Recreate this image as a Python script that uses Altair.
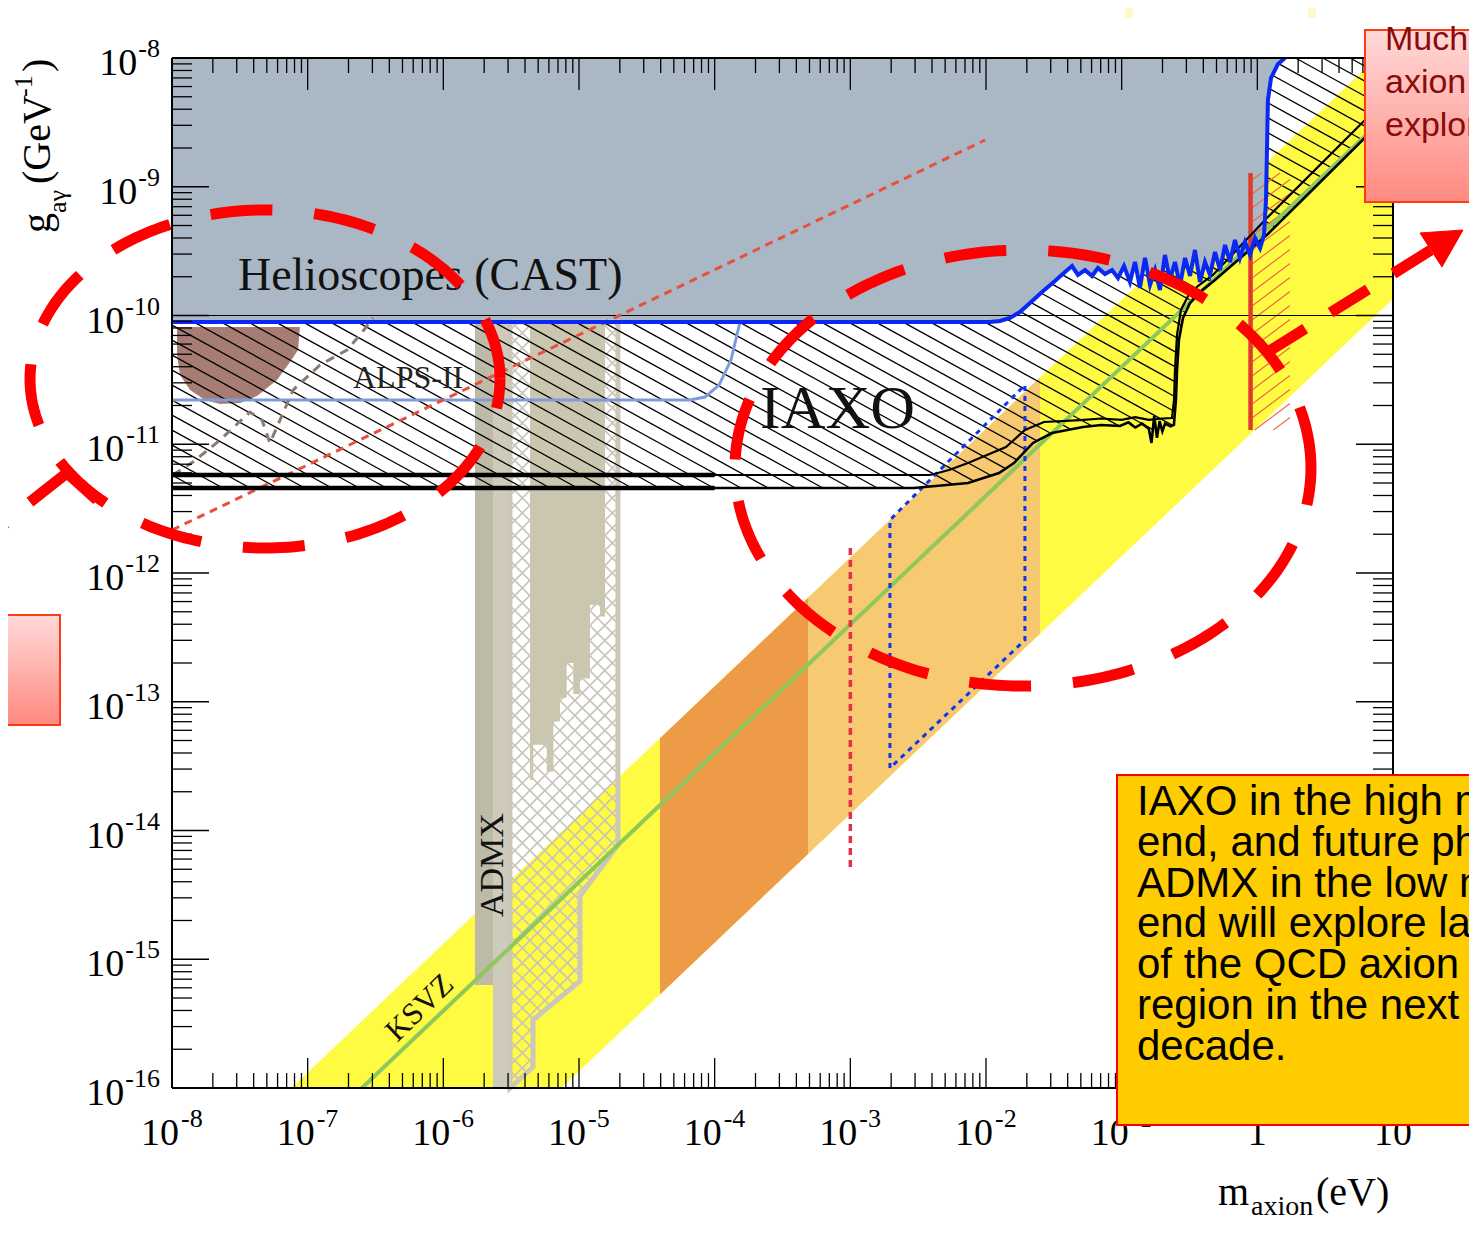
import altair as alt
import numpy as np
import pandas as pd

# ---------------- chart geometry ----------------
W, H = 1221, 1030
XMIN, XMAX, YMIN, YMAX = -8.0, 1.0, -16.0, -8.0
SX = W / (XMAX - XMIN)   # px per decade (x)
SY = H / (YMAX - YMIN)   # px per decade (y)

xs = alt.Scale(domain=[XMIN, XMAX], nice=False, zero=False)
ys = alt.Scale(domain=[YMIN, YMAX], nice=False, zero=False)


def X(f):
    return alt.X(f, type="quantitative", scale=xs, axis=None)


def Y(f):
    return alt.Y(f, type="quantitative", scale=ys, axis=None)


# ---------------- data: log10(m_axion / eV), log10(g / GeV^-1) ----------------
x_decades = list(range(-8, 2))
y_decades = list(range(-16, -7))

# QCD axion (KSVZ/DFSZ) yellow band, edges
band_m = [-8.0, 1.0]
band_lo = [-18.87, -9.87]
band_hi = [-16.88, -7.88]
# KSVZ line
ksvz_m = [-6.6, 1.0]
ksvz_g = [-16.0, -8.4]
# orange regions (dark / light)
orD_m = [-4.403, -3.312]
orD_lo = [-15.273, -14.182]
orD_hi = [-13.283, -12.192]
orL_m = [-3.312, -1.602]
orL_lo = [-14.182, -12.472]
orL_hi = [-12.192, -10.482]

# CAST helioscope limit
cast_m = [-8.0, -1.971, -1.897, -1.823, -1.750, -1.676, -1.587, -1.492, -1.418,
          -1.366, -1.322, -1.270, -1.219, -1.175, -1.123, -1.071, -1.027, -0.983, -0.939,
          -0.902, -0.865, -0.828, -0.791, -0.754, -0.718, -0.681, -0.644, -0.607, -0.570,
          -0.533, -0.496, -0.460, -0.423, -0.386, -0.349, -0.312, -0.275, -0.238, -0.202,
          -0.165, -0.128, -0.091, -0.054, -0.017, 0.020, 0.049,
          0.064, 0.071, 0.078, 0.101, 0.152, 0.204]
cast_g = [-10.05, -10.05, -10.043, -10.019, -9.973, -9.903, -9.817, -9.732, -9.662,
          -9.616, -9.685, -9.647, -9.693, -9.631, -9.678, -9.647, -9.709, -9.616, -9.740,
          -9.584, -9.786, -9.553, -9.763, -9.647, -9.802, -9.530, -9.724, -9.584, -9.771,
          -9.553, -9.693, -9.491, -9.740, -9.584, -9.685, -9.507, -9.647, -9.452, -9.584,
          -9.414, -9.553, -9.429, -9.530, -9.398, -9.476, -9.375,
          -9.103, -8.715, -8.326, -8.155, -8.047, -8.0]

# IAXO sensitivity curves (lower and upper)
iaxo2_m = [-8.0, -2.531, -2.133, -1.904, -1.794, -1.654, -1.514, -1.285, -1.15, -1.012,
           -0.95, -0.90, -0.85, -0.80, -0.78, -0.76, -0.74, -0.72, -0.70, -0.68,
           -0.64, -0.615, -0.600, -0.592, -0.578, -0.548, -0.496, -0.423, -0.312, 0.078, 1.0]
iaxo2_g = [-11.340, -11.340, -11.301, -11.223, -11.146, -10.990, -10.913, -10.866, -10.851, -10.858,
           -10.83, -10.87, -10.84, -10.88, -10.99, -10.78, -10.95, -10.82, -10.90, -10.84,
           -10.86, -10.85, -10.656, -10.423, -10.190, -10.019, -9.903, -9.817, -9.724, -9.367, -8.404]
iaxo1_m = [-8.0, -2.413, -2.273, -2.133, -1.853, -1.713, -1.573, -1.307, -1.15, -1.0, -0.9,
           -0.8, -0.7, -0.629, -0.614, -0.607, -0.592, -0.563, -0.511, -0.438, -0.327, 0.078, 1.0]
iaxo1_g = [-11.239, -11.239, -11.200, -11.146, -11.021, -10.889, -10.827, -10.812, -10.80, -10.81, -10.79,
           -10.81, -10.80, -10.796, -10.656, -10.423, -10.151, -9.957, -9.849, -9.771, -9.685, -9.235, -8.264]

# ALPS-II
alps_m = [-8.0, -4.182, -4.071, -3.968, -3.880, -3.836, -3.813]
alps_g = [-10.656, -10.656, -10.633, -10.540, -10.346, -10.151, -10.05]
brown_m = [-7.963, -7.941, -7.867, -7.757, -7.646, -7.499, -7.373, -7.226, -7.130, -7.071, -7.057]
brown_lo = [-10.307, -10.462, -10.579, -10.656, -10.687, -10.680, -10.625, -10.501, -10.361, -10.268, -10.089]
brown_hi = [-10.089] * 11
gdash_m = [-7.993, -7.845, -7.646, -7.425, -7.337, -7.278, -7.204, -7.108, -6.909, -6.710, -6.614, -6.518]
gdash_g = [-11.239, -11.138, -10.967, -10.750, -10.812, -10.990, -10.812, -10.579, -10.384, -10.268, -10.151, -10.019]

# red dotted diagonal
rdot_m = [-8.0, -2.007]
rdot_g = [-11.666, -8.637]

# ADMX
admx_band = dict(x1=[-5.767, -5.634], x2=[-5.634, -5.509], y1=[-10.05, -10.05], y2=[-15.20, -16.0])
admx_future_m = [-5.509, -4.713, -4.713, -4.993, -4.993, -5.339, -5.339, -5.509, -5.509]
admx_future_g = [-10.05, -10.05, -14.113, -14.509, -15.169, -15.472, -15.837, -16.0, -10.05]
admx_step_m = [-5.361, -5.337, -5.238, -5.189, -5.140, -5.091, -5.042, -4.993, -4.919, -4.845, -4.808]
admx_step_g = [-13.605, -13.334, -13.544, -13.153, -12.971, -12.699, -12.940, -12.820, -12.248, -12.338]

# blue dotted parallelogram, red dotted vertical, red solid + hatched
bpar_m = [-2.708, -2.708, -1.713, -1.713, -2.708]
bpar_g = [-13.515, -11.588, -10.540, -12.520, -13.515]
rvert_m = [-3.0, -3.0]
rvert_g = [-11.806, -14.307]
rsol_m = [-0.05, -0.05]
rsol_g = [-8.893, -10.889]
rhatch_box = [(-0.039, -8.893), (0.241, -8.893), (0.241, -10.889), (-0.039, -10.889)]

# ---------------- helpers ----------------
def hatch(poly, slope, step, offset=0.0):
    P = np.array([[a * SX, -b * SY] for a, b in poly])
    n = len(P)
    k = P[:, 1] - slope * P[:, 0]
    c = np.floor((k.min() - offset) / step) * step + offset
    segs = []
    while c <= k.max():
        us = []
        for i in range(n):
            a = P[i]
            b = P[(i + 1) % n]
            fa = a[1] - slope * a[0] - c
            fb = b[1] - slope * b[0] - c
            if (fa < 0) != (fb < 0):
                t = fa / (fa - fb)
                us.append(a[0] + t * (b[0] - a[0]))
        us.sort()
        for j in range(0, len(us) - 1, 2):
            u1, u2 = us[j], us[j + 1]
            segs.append({"x1": u1 / SX, "y1": -(slope * u1 + c) / SY,
                         "x2": u2 / SX, "y2": -(slope * u2 + c) / SY})
        c += step
    return pd.DataFrame(segs)


def line_df(m, g):
    return pd.DataFrame({"x": m, "y": g, "i": range(len(m))})


def line(m, g, **kw):
    return alt.Chart(line_df(m, g)).mark_line(**kw).encode(
        x=X("x"), y=Y("y"), order=alt.Order("i:Q"))


def segs_layer(df, **kw):
    return alt.Chart(df).mark_rule(**kw).encode(
        x=X("x1"), x2=alt.X2("x2"), y=Y("y1"), y2=alt.Y2("y2"))


def rects(x1, x2, y1, y2, **kw):
    df = pd.DataFrame({"x1": x1, "x2": x2, "y1": y1, "y2": y2})
    return alt.Chart(df).mark_rect(**kw).encode(
        x=X("x1"), x2=alt.X2("x2"), y=Y("y1"), y2=alt.Y2("y2"))


def area(m, lo, hi, **kw):
    df = pd.DataFrame({"x": m, "lo": lo, "hi": hi})
    return alt.Chart(df).mark_area(**kw).encode(x=X("x"), y=Y("lo"), y2=alt.Y2("hi"))


def text(rows, **kw):
    df = pd.DataFrame(rows, columns=["x", "y", "t"])
    return alt.Chart(df).mark_text(**kw).encode(x=X("x"), y=Y("y"), text="t:N")


def ellipse(cx, cy, rx, ry, n=240):
    t = np.linspace(0, 2 * np.pi, n)
    return cx + rx * np.cos(t), cy + ry * np.sin(t)


SERIF = "Liberation Serif"
SANS = "Liberation Sans"
layers = []

# ---------------- filled regions ----------------
layers.append(area(band_m, band_lo, band_hi, color="#FFFA42", clip=True))
layers.append(area(orD_m, orD_lo, orD_hi, color="#EE9B48", clip=True))
layers.append(area(orL_m, orL_lo, orL_hi, color="#F7C970", clip=True))
layers.append(area(cast_m, cast_g, [YMAX] * len(cast_m), color="#AAB7C4", clip=True))
layers.append(area(brown_m, brown_lo, brown_hi, color="#A77D73"))
layers.append(rects(admx_band["x1"][:1], admx_band["x2"][:1], admx_band["y1"][:1], admx_band["y2"][:1],
                    color="#BEBAA8"))
layers.append(rects(admx_band["x1"][1:], admx_band["x2"][1:], admx_band["y1"][1:], admx_band["y2"][1:],
                    color="#CFCBBB"))

# crosshatch of future ADMX region
fut_poly = list(zip(admx_future_m[:-1], admx_future_g[:-1]))
layers.append(segs_layer(pd.concat([hatch(fut_poly, 1.0, 15.0), hatch(fut_poly, -1.0, 15.0)]),
                         color="#C9C5B8", strokeWidth=1.6))
# current ADMX exclusion (stepped)
layers.append(area(admx_step_m, admx_step_g + [admx_step_g[-1]], [-10.05] * len(admx_step_m),
                   color="#CBC6B0", interpolate="step-after"))
layers.append(line(admx_future_m, admx_future_g, color="#CCC7B7", strokeWidth=5))

# IAXO hatch
iaxo_poly = list(zip(iaxo2_m, iaxo2_g)) + [(1.0, -8.0)] + \
    list(zip(cast_m[::-1], cast_g[::-1]))
layers.append(segs_layer(hatch(iaxo_poly, 0.55, 15.0, 4.0), color="black", strokeWidth=1.3))
# red hatch
layers.append(segs_layer(hatch(rhatch_box, -0.75, 14.0), color="#EC6A45", strokeWidth=1.1))

# ---------------- lines ----------------
hline = pd.DataFrame({"y": [-10.0]})
layers.append(alt.Chart(hline).mark_rule(color="black", strokeWidth=1.2).encode(
    y=Y("y"), x=alt.value(0), x2=alt.value(W)))
layers.append(line(alps_m, alps_g, color="#7E9DD8", strokeWidth=3))
layers.append(line(gdash_m, gdash_g, color="#8C7A6E", strokeWidth=3, strokeDash=[9, 7]))
layers.append(line(rdot_m, rdot_g, color="#E8503C", strokeWidth=3, strokeDash=[8, 6]))
layers.append(line(ksvz_m, ksvz_g, color="#8DC85C", strokeWidth=4, clip=True))
layers.append(line(bpar_m, bpar_g, color="#1034F0", strokeWidth=3, strokeDash=[5, 5]))
layers.append(line(rvert_m, rvert_g, color="#E0334A", strokeWidth=3.5, strokeDash=[7, 5]))
layers.append(line(rsol_m, rsol_g, color="#E03A2C", strokeWidth=4.5))
layers.append(line(iaxo1_m, iaxo1_g, color="black", strokeWidth=2.2, clip=True))
layers.append(line(iaxo2_m, iaxo2_g, color="black", strokeWidth=2.6, clip=True))
layers.append(line([-8.0, -4.0], [iaxo1_g[0], iaxo1_g[0]], color="black", strokeWidth=4.5))
layers.append(line([-8.0, -4.0], [iaxo2_g[0], iaxo2_g[0]], color="black", strokeWidth=4.5))
layers.append(line(cast_m, cast_g, color="#0A28F5", strokeWidth=4, clip=True))

# ---------------- plot labels ----------------
layers.append(text([(-7.514, -9.802, "Helioscopes (CAST)")], font=SERIF, fontSize=46,
                   align="left", baseline="alphabetic", color="#111111"))
layers.append(text([(-3.666, -10.874, "IAXO")], font=SERIF, fontSize=62,
                   align="left", baseline="alphabetic", color="#111111"))
layers.append(text([(-6.666, -10.563, "ALPS-II")], font=SERIF, fontSize=32,
                   align="left", baseline="alphabetic", color="#222222"))
layers.append(text([(-5.560, -14.672, "ADMX")], font=SERIF, fontSize=34, angle=270,
                   align="left", baseline="alphabetic", color="#111111"))
layers.append(text([(-6.172, -15.379, "KSVZ")], font=SERIF, fontSize=31, angle=316,
                   align="center", baseline="middle", color="#111111"))

# ---------------- frame and ticks ----------------
one = pd.DataFrame({"a": [0]})
for kw in [dict(x=alt.value(0), x2=alt.value(W), y=alt.value(0)),
           dict(x=alt.value(0), x2=alt.value(W), y=alt.value(H)),
           dict(y=alt.value(0), y2=alt.value(H), x=alt.value(0)),
           dict(y=alt.value(0), y2=alt.value(H), x=alt.value(W))]:
    layers.append(alt.Chart(one).mark_rule(color="black", strokeWidth=2).encode(**kw))

y_major = pd.DataFrame({"v": y_decades})
y_minor = pd.DataFrame({"v": [d + np.log10(k) for d in y_decades[:-1] for k in range(2, 10)]})
x_major = pd.DataFrame({"v": x_decades})
x_minor = pd.DataFrame({"v": [d + np.log10(k) for d in x_decades[:-1] for k in range(2, 10)]})
tk = dict(color="black", strokeWidth=1.3)
for df, L in [(y_major, 37), (y_minor, 20)]:
    layers.append(alt.Chart(df).mark_rule(**tk).encode(y=Y("v"), x=alt.value(0), x2=alt.value(L)))
    layers.append(alt.Chart(df).mark_rule(**tk).encode(y=Y("v"), x=alt.value(W - L), x2=alt.value(W)))
for df, Lt, Lb in [(x_major, 32, 30), (x_minor, 15, 15)]:
    layers.append(alt.Chart(df).mark_rule(**tk).encode(x=X("v"), y=alt.value(0), y2=alt.value(Lt)))
    layers.append(alt.Chart(df).mark_rule(**tk).encode(x=X("v"), y=alt.value(H - Lb), y2=alt.value(H)))

# tick labels
ylab10, ylabexp = [], []
for d in y_decades:
    e = str(d)
    w = 26 * (0.333 + 0.5 * (len(e) - 1))
    ylab10.append((XMIN + (-13 - w) / SX, d - 17 / SY, "10"))
    ylabexp.append((XMIN - 12 / SX, d + 1 / SY, e))
layers.append(text(ylab10, font=SERIF, fontSize=38, align="right", baseline="alphabetic", color="black"))
layers.append(text(ylabexp, font=SERIF, fontSize=26, align="right", baseline="alphabetic", color="black"))

xlab10, xlabexp, xlabplain = [], [], []
for d in x_decades:
    if d < 0:
        xlab10.append((d + 7 / SX, YMIN - 57 / SY, "10"))
        xlabexp.append((d + 9 / SX, YMIN - 39 / SY, str(d)))
    else:
        xlabplain.append((d, YMIN - 57 / SY, "1" if d == 0 else "10"))
layers.append(text(xlab10, font=SERIF, fontSize=38, align="right", baseline="alphabetic", color="black"))
layers.append(text(xlabexp, font=SERIF, fontSize=26, align="left", baseline="alphabetic", color="black"))
layers.append(text(xlabplain, font=SERIF, fontSize=38, align="center", baseline="alphabetic", color="black"))

# axis titles
layers.append(text([(-0.290, -16.909, "m")], font=SERIF, fontSize=40, align="left", baseline="alphabetic", color="black"))
layers.append(text([(-0.047, -16.986, "axion")], font=SERIF, fontSize=28, align="left", baseline="alphabetic", color="black"))
layers.append(text([(0.432, -16.909, "(eV)")], font=SERIF, fontSize=40, align="left", baseline="alphabetic", color="black"))
rot = dict(font=SERIF, angle=270, align="left", baseline="alphabetic", color="black")
layers.append(text([(-8.899, -9.359, "g"), (-8.899, -8.979, "(GeV"), (-8.899, -8.109, ")")], fontSize=40, **rot))
layers.append(text([(-8.781, -9.204, "a\u03b3"), (-9.032, -8.303, "-1")], fontSize=26, **rot))

# ---------------- slide annotations ----------------
pink = alt.Gradient(gradient="linear",
                    stops=[alt.GradientStop(color="#FFD9D9", offset=0),
                           alt.GradientStop(color="#FF8A80", offset=1)],
                    x1=0, x2=0, y1=0, y2=1)
for ex, ey in [ellipse(-7.3145, -10.493, 1.732, 1.3126), ellipse(-1.7275, -11.1845, 2.1228, 1.6932)]:
    layers.append(line(list(ex), list(ey), color="#FF0000", strokeWidth=11, strokeDash=[62, 42],
                       strokeCap="butt"))
layers.append(line([-9.047, -8.774, -8.553], [-11.449, -11.223, -11.433], color="#FF0000",
                   strokeWidth=11, strokeCap="butt", strokeJoin="miter"))
layers.append(line([-9.268, -9.224], [-11.643, -11.612], color="#FF0000", strokeWidth=11, strokeCap="butt"))
layers.append(line([0.078, 1.280], [-10.283, -9.491], color="#FF0000", strokeWidth=11,
                   strokeDash=[44, 30], strokeCap="butt"))
layers.append(line([1.516, 1.361, 1.199, 1.516], [-9.336, -9.623, -9.359, -9.336],
                   color="#FF0000", fill="#FF0000", strokeWidth=1))

layers.append(rects([0.7934], [1.70], [-7.7825], [-9.1184], fill=pink, stroke="#FF3A14", strokeWidth=2))
layers.append(rects([-9.30], [-8.8255], [-12.326], [-13.180], fill=pink, stroke="#FF3A14", strokeWidth=2))
layers.append(rects([-0.976, 0.373], [-0.917, 0.432], [-7.5495, -7.5495], [-7.6893, -7.6893], color="#FFF8C8"))
layers.append(text([(0.941, -7.938, "Much\naxion\nexplored")], font=SANS, fontSize=34,
                   lineBreak="\n", lineHeight=43, align="left", baseline="alphabetic", color="#8B0A0A"))
layers.append(rects([-1.0345], [1.70], [-13.569], [-16.287], fill="#FFCC00", stroke="#FF0000", strokeWidth=2))
box_text = ("IAXO in the high mass\nend, and future phases of\nADMX in the low mass\n"
            "end will explore large part\nof the QCD axion model\nregion in the next\ndecade.")
layers.append(text([(-0.887, -13.880, box_text)], font=SANS, fontSize=42, lineBreak="\n",
                   lineHeight=40.8, align="left", baseline="alphabetic", color="black"))

chart = alt.layer(*layers).properties(
    width=W, height=H,
    padding={"left": 164, "top": 50, "right": 76, "bottom": 135},
    autosize=alt.AutoSizeParams(type="none"),
    background="white",
).configure_view(stroke=None)

chart.save("out.html", embed_options={"renderer": "svg", "actions": False})
